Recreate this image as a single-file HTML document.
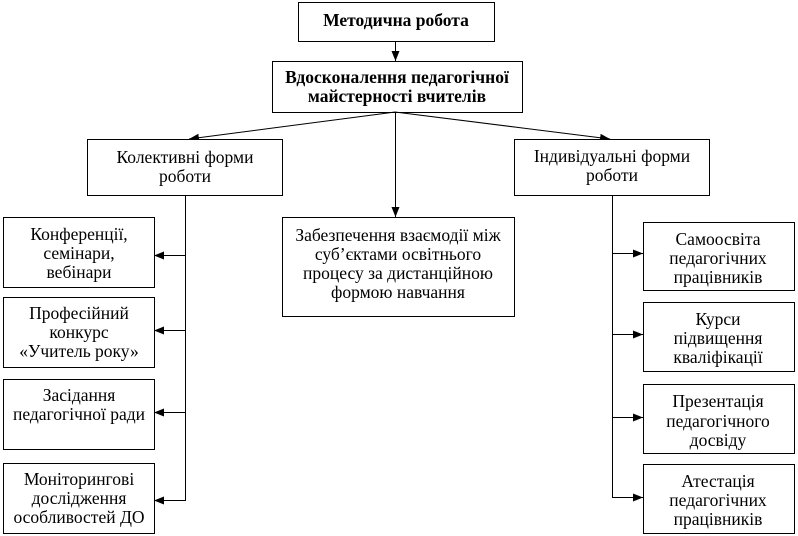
<!DOCTYPE html>
<html><head><meta charset="utf-8"><style>
html,body{margin:0;padding:0;background:#fff;}
svg{display:block;}
text{font-family:"Liberation Serif","DejaVu Serif",serif;font-size:17.5px;fill:#000;text-anchor:middle;}
.b{font-weight:bold;}
rect{fill:#fff;stroke:#000;stroke-width:1;}
line{stroke:#000;stroke-width:1;}
</style></head><body>
<svg width="798" height="536" viewBox="0 0 798 536">
<defs><marker id="a" markerWidth="10" markerHeight="8" refX="10" refY="4" orient="auto" markerUnits="userSpaceOnUse"><path d="M0,0 L10,4 L0,8 z" fill="#000"/></marker></defs>
<rect x="298.5" y="2.5" width="196" height="39"/>
<text class="b" x="396" y="26">Методична робота</text>
<line x1="395.5" y1="41" x2="395.5" y2="61" marker-end="url(#a)"/>
<rect x="272.5" y="61.5" width="250" height="51"/>
<text class="b" x="397" y="83">Вдосконалення педагогічної</text>
<text class="b" x="397" y="102">майстерності вчителів</text>
<line x1="395" y1="112" x2="189" y2="139" marker-end="url(#a)"/>
<line x1="395" y1="112" x2="610" y2="139" marker-end="url(#a)"/>
<line x1="395.5" y1="112" x2="395.5" y2="217" marker-end="url(#a)"/>
<rect x="87.5" y="139.5" width="195" height="56"/>
<text x="185" y="163">Колективні форми</text>
<text x="185" y="182">роботи</text>
<rect x="514.5" y="139.5" width="195" height="56"/>
<text x="612" y="162">Індивідуальні форми</text>
<text x="612" y="181">роботи</text>
<rect x="282.5" y="217.5" width="232" height="99"/>
<text x="398" y="241">Забезпечення взаємодії між</text>
<text x="398" y="260">суб’єктами освітнього</text>
<text x="398" y="279">процесу за дистанційною</text>
<text x="398" y="298">формою навчання</text>
<line x1="185.5" y1="195" x2="185.5" y2="501"/>
<line x1="185" y1="255.5" x2="154" y2="255.5" marker-end="url(#a)"/>
<line x1="185" y1="330.5" x2="154" y2="330.5" marker-end="url(#a)"/>
<line x1="185" y1="412.5" x2="154" y2="412.5" marker-end="url(#a)"/>
<line x1="185" y1="500.5" x2="154" y2="500.5" marker-end="url(#a)"/>
<rect x="3.5" y="217.5" width="151" height="70"/>
<text x="79" y="240">Конференції,</text>
<text x="79" y="259">семінари,</text>
<text x="79" y="278">вебінари</text>
<rect x="3.5" y="297.5" width="151" height="70"/>
<text x="79" y="319">Професійний</text>
<text x="79" y="338">конкурс</text>
<text x="79" y="357">«Учитель року»</text>
<rect x="3.5" y="379.5" width="151" height="70"/>
<text x="79" y="401">Засідання</text>
<text x="79" y="420">педагогічної ради</text>
<rect x="3.5" y="463.5" width="151" height="70"/>
<text x="79" y="485">Моніторингові</text>
<text x="79" y="504">дослідження</text>
<text x="79" y="523">особливостей ДО</text>
<line x1="612.5" y1="196" x2="612.5" y2="498"/>
<line x1="612" y1="253.5" x2="643" y2="253.5" marker-end="url(#a)"/>
<line x1="612" y1="334.5" x2="643" y2="334.5" marker-end="url(#a)"/>
<line x1="612" y1="417.5" x2="643" y2="417.5" marker-end="url(#a)"/>
<line x1="612" y1="497.5" x2="643" y2="497.5" marker-end="url(#a)"/>
<rect x="643.5" y="222.5" width="151" height="68"/>
<text x="718" y="245">Самоосвіта</text>
<text x="718" y="264">педагогічних</text>
<text x="718" y="283">працівників</text>
<rect x="643.5" y="302.5" width="151" height="69"/>
<text x="718" y="325">Курси</text>
<text x="718" y="344">підвищення</text>
<text x="718" y="363">кваліфікації</text>
<rect x="643.5" y="384.5" width="151" height="69"/>
<text x="718" y="407">Презентація</text>
<text x="718" y="427">педагогічного</text>
<text x="718" y="446">досвіду</text>
<rect x="643.5" y="464.5" width="151" height="69"/>
<text x="718" y="487">Атестація</text>
<text x="718" y="506">педагогічних</text>
<text x="718" y="525">працівників</text>
</svg>
</body></html>
